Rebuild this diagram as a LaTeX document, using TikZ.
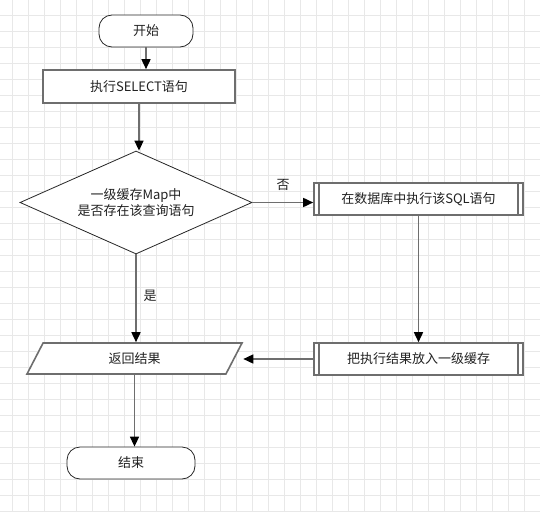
\documentclass[tikz,border=0pt]{standalone}
\usepackage{fontspec}
\setmainfont{Noto Sans CJK SC}
\usetikzlibrary{shapes.geometric,arrows.meta}
\definecolor{gridgray}{HTML}{E8E8E8}
\definecolor{linegray}{HTML}{6E6E6E}
\definecolor{txtgray}{HTML}{222222}
\tikzset{
  gridline/.style={draw=gridgray, line width=0.8pt},
  flow/.style={draw=linegray, line width=1.6pt, -{Triangle[length=10pt,width=9pt,color=black]}},
  terminal/.style={draw=black!85, line width=0.8pt, rounded corners=13pt, minimum height=32pt, fill=white},
  stepbox/.style={draw=linegray, line width=1.6pt, minimum height=32pt, fill=white},
  sidebar/.style={draw=linegray, line width=1.6pt}
}
\begin{document}
\begin{tikzpicture}[x=1pt, y=-1pt, font=\fontsize{13}{16}\selectfont, text=txtgray]
            \useasboundingbox (0,0) rectangle (540,511);
            \fill[white] (0,0) rectangle (540,511);
            \foreach \x in {12,28,...,540} \draw[gridline] (\x,0) -- (\x,511);
            \foreach \y in {15,31,...,511} \draw[gridline] (0,\y) -- (540,\y);

            \node (start) at (146,31) [terminal, minimum width=94pt] {开始};
            \node (select) at (139,86.5) [stepbox, minimum width=192pt, minimum height=33pt] {执行SELECT语句};
            \node (cache) at (136,202.5) [draw=black!85, line width=0.8pt, shape=diamond, aspect=2.25,
                minimum width=232pt, minimum height=103pt, inner sep=1pt, align=center, fill=white]
                {一级缓存Map中\\是否存在该查询语句};
            \node (db) at (418.5,199) [stepbox, minimum width=209pt] {在数据库中执行该SQL语句};
            \node (put) at (418.5,359) [stepbox, minimum width=209pt] {把执行结果放入一级缓存};
            \node (ret) at (134.5,358.5) [draw=linegray, line width=1.6pt, shape=trapezium,
                trapezium left angle=41, trapezium right angle=139, trapezium stretches body,
                minimum width=215pt, minimum height=31pt, inner sep=1pt, fill=white] {返回结果};
            \node (fin) at (131,463) [terminal, minimum width=128pt] {结束};

            \draw[sidebar] ([xshift=6pt]db.north west) -- ([xshift=6pt]db.south west);
            \draw[sidebar] ([xshift=-6pt]db.north east) -- ([xshift=-6pt]db.south east);
            \draw[sidebar] ([xshift=6pt]put.north west) -- ([xshift=6pt]put.south west);
            \draw[sidebar] ([xshift=-6pt]put.north east) -- ([xshift=-6pt]put.south east);

            \draw[flow] (start.south) -- (start.south |- select.north);
            \draw[flow] (select.south) -- (select.south |- cache.north);
            \draw[flow] (cache.east) -- (cache.east -| db.west);
            \draw[flow] (db.south) -- (put.north);
            \draw[flow] (put.west) -- (put.west -| ret.top right corner);
            \draw[flow] (cache.south) -- (cache.south |- ret.north);
            \draw[flow] (ret.south) -- (ret.south |- fin.north);

            \node (no) at (283,185) {否};
            \node (yes) at (150,296) {是};
        \end{tikzpicture}
\end{document}
